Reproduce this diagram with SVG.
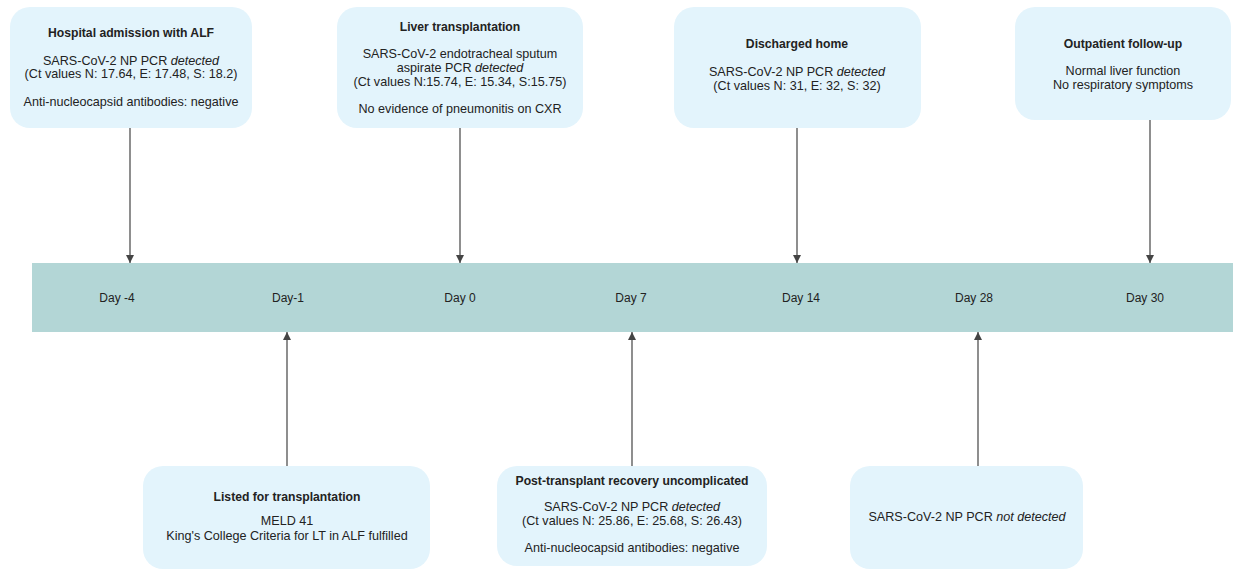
<svg xmlns="http://www.w3.org/2000/svg" width="1244" height="569" viewBox="0 0 1244 569">
<style>
.box{fill:#e3f4fc;}
text{font-family:"Liberation Sans",Arial,sans-serif;font-size:12.6px;fill:#222;text-anchor:middle;}
.t{font-weight:bold;font-size:12.2px;}
.i{font-style:italic;}
.con{stroke:#444;stroke-width:1.2;fill:none;}
.day{font-size:12px;}
</style>
<defs>
<marker id="ah" viewBox="0 0 10 10" refX="10" refY="5" markerWidth="8" markerHeight="8" markerUnits="userSpaceOnUse" orient="auto">
<path d="M0,0 L10,5 L0,10 z" fill="#444"/>
</marker>
</defs>
<rect x="0" y="0" width="1244" height="569" fill="#fff"/>
<g id="timeline">
<rect x="32" y="263" width="1201" height="69" fill="#b3d6d6"/>
<text class="day" x="117" y="302">Day -4</text>
<text class="day" x="288" y="302">Day-1</text>
<text class="day" x="460" y="302">Day 0</text>
<text class="day" x="631" y="302">Day 7</text>
<text class="day" x="801" y="302">Day 14</text>
<text class="day" x="974" y="302">Day 28</text>
<text class="day" x="1145" y="302">Day 30</text>
</g>
<g id="connectors">
<line class="con" x1="130" y1="128" x2="130" y2="263" marker-end="url(#ah)"/>
<line class="con" x1="460" y1="128" x2="460" y2="263" marker-end="url(#ah)"/>
<line class="con" x1="797" y1="128" x2="797" y2="263" marker-end="url(#ah)"/>
<line class="con" x1="1150" y1="120" x2="1150" y2="263" marker-end="url(#ah)"/>
<line class="con" x1="287" y1="466" x2="287" y2="332" marker-end="url(#ah)"/>
<line class="con" x1="632" y1="466" x2="632" y2="332" marker-end="url(#ah)"/>
<line class="con" x1="978" y1="466" x2="978" y2="332" marker-end="url(#ah)"/>
</g>
<g id="n1">
<rect class="box" x="10" y="7" width="242" height="121" rx="20"/>
<text class="t" x="131" y="37">Hospital admission with ALF</text>
<text x="131" y="65">SARS-CoV-2 NP PCR <tspan class="i">detected</tspan></text>
<text x="131" y="78">(Ct values N: 17.64, E: 17.48, S: 18.2)</text>
<text x="131" y="106">Anti-nucleocapsid antibodies: negative</text>
</g>
<g id="n2">
<rect class="box" x="337" y="7" width="246" height="121" rx="20"/>
<text class="t" x="460" y="31">Liver transplantation</text>
<text x="460" y="58">SARS-CoV-2 endotracheal sputum</text>
<text x="460" y="72">aspirate PCR <tspan class="i">detected</tspan></text>
<text x="460" y="86">(Ct values N:15.74, E: 15.34, S:15.75)</text>
<text x="460" y="113">No evidence of pneumonitis on CXR</text>
</g>
<g id="n3">
<rect class="box" x="674" y="7" width="247" height="121" rx="20"/>
<text class="t" x="797" y="48">Discharged home</text>
<text x="797" y="76">SARS-CoV-2 NP PCR <tspan class="i">detected</tspan></text>
<text x="797" y="90">(Ct values N: 31, E: 32, S: 32)</text>
</g>
<g id="n4">
<rect class="box" x="1015" y="7" width="216" height="113" rx="20"/>
<text class="t" x="1123" y="48">Outpatient follow-up</text>
<text x="1123" y="75">Normal liver function</text>
<text x="1123" y="89">No respiratory symptoms</text>
</g>
<g id="n5">
<rect class="box" x="143" y="466" width="287" height="103" rx="20"/>
<text class="t" x="287" y="501">Listed for transplantation</text>
<text x="287" y="525">MELD 41</text>
<text x="287" y="540">King's College Criteria for LT in ALF fulfilled</text>
</g>
<g id="n6">
<rect class="box" x="497" y="466" width="270" height="100" rx="20"/>
<text class="t" x="632" y="485">Post-transplant recovery uncomplicated</text>
<text x="632" y="511">SARS-CoV-2 NP PCR <tspan class="i">detected</tspan></text>
<text x="632" y="525">(Ct values N: 25.86, E: 25.68, S: 26.43)</text>
<text x="632" y="552">Anti-nucleocapsid antibodies: negative</text>
</g>
<g id="n7">
<rect class="box" x="850" y="466" width="233" height="103" rx="20"/>
<text x="967" y="521">SARS-CoV-2 NP PCR <tspan class="i">not detected</tspan></text>
</g>
</svg>
